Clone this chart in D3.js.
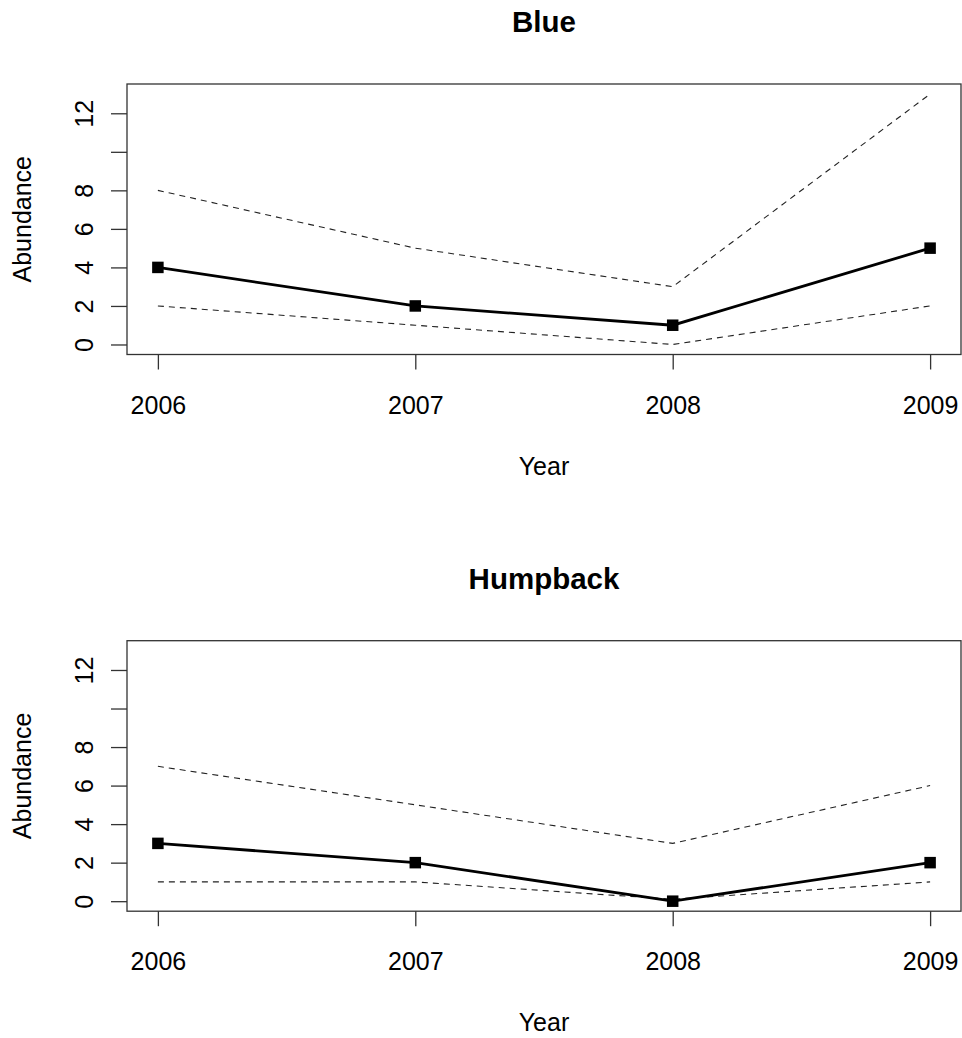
<!DOCTYPE html>
<html>
<head>
<meta charset="utf-8">
<script src="https://cdn.jsdelivr.net/npm/d3@7"></script>
<style>
  html, body { margin: 0; padding: 0; background: #fff; }
  svg { display: block; font-family: "Liberation Sans", Arial, sans-serif; }
</style>
</head>
<body>
<svg id="chart" width="962" height="1038"></svg>
<script>
// Survey years and abundance estimates with their confidence bounds
const years = [2006, 2007, 2008, 2009];
const species = ["Blue", "Humpback"];
const blueEstimate = [4, 2, 1, 5];
const blueLower = [2, 1, 0, 2];
const blueUpper = [8, 5, 3, 13];
const humpbackEstimate = [3, 2, 0, 2];
const humpbackLower = [1, 1, 0.1, 1];
const humpbackUpper = [7, 5, 3, 6];
const yTicks = [0, 2, 4, 6, 8, 10, 12];
const yTickLabels = ["0", "2", "4", "6", "8", "", "12"];
const xTickLabels = ["2006", "2007", "2008", "2009"];

const panels = [
  { title: species[0], est: blueEstimate, lo: blueLower, hi: blueUpper, top: 84 },
  { title: species[1], est: humpbackEstimate, lo: humpbackLower, hi: humpbackUpper, top: 640.7 }
];

const svg = d3.select("#chart");
const left = 127, right = 961, boxH = 270.5;
const fs = 25;

// R-style 4% padding around the data range
const xPad = (years[years.length - 1] - years[0]) * 0.04;
const yMax = 13, yPad = yMax * 0.04;

panels.forEach(p => {
  const top = p.top, bottom = top + boxH;
  const x = d3.scaleLinear().domain([years[0] - xPad, years[years.length - 1] + xPad]).range([left, right]);
  const y = d3.scaleLinear().domain([-yPad, yMax + yPad]).range([bottom, top]);

  const g = svg.append("g");

  // title
  g.append("text")
    .attr("x", (left + right) / 2).attr("y", top - 52)
    .attr("text-anchor", "middle")
    .attr("font-weight", "bold").attr("font-size", 29.5)
    .text(p.title);

  // plot frame
  g.append("rect")
    .attr("x", left).attr("y", top)
    .attr("width", right - left).attr("height", boxH)
    .attr("fill", "none").attr("stroke", "#333").attr("stroke-width", 1.3);

  // x axis
  const xAxis = d3.axisBottom(x)
    .tickValues(years)
    .tickSize(15).tickPadding(0)
    .tickFormat((d, i) => xTickLabels[i]);
  const gx = g.append("g").attr("transform", `translate(0,${bottom})`).call(xAxis);
  gx.select(".domain").remove();
  gx.selectAll(".tick line").attr("stroke", "#333").attr("stroke-width", 1.3);
  gx.selectAll(".tick text")
    .attr("font-size", fs).attr("fill", "#000")
    .attr("dy", null).attr("y", 59);

  // y axis
  const yAxis = d3.axisLeft(y)
    .tickValues(yTicks)
    .tickSize(16).tickPadding(0)
    .tickFormat((d, i) => yTickLabels[i]);
  const gy = g.append("g").attr("transform", `translate(${left},0)`).call(yAxis);
  gy.select(".domain").remove();
  gy.selectAll(".tick line").attr("stroke", "#333").attr("stroke-width", 1.3);
  gy.selectAll(".tick text")
    .attr("font-size", fs).attr("fill", "#000")
    .attr("x", null).attr("dy", null)
    .attr("text-anchor", "middle")
    .attr("transform", "translate(-33.7,0) rotate(-90)");

  // axis titles
  g.append("text")
    .attr("x", (left + right) / 2).attr("y", bottom + 120)
    .attr("text-anchor", "middle").attr("font-size", fs)
    .text("Year");
  g.append("text")
    .attr("transform", `translate(31,${(top + bottom) / 2}) rotate(-90)`)
    .attr("text-anchor", "middle").attr("font-size", fs)
    .text("Abundance");

  const line = d3.line().x((d, i) => x(years[i])).y(d => y(d));

  // confidence bounds
  [p.lo, p.hi].forEach(arr => {
    g.append("path")
      .datum(arr)
      .attr("d", line)
      .attr("fill", "none").attr("stroke", "#222")
      .attr("stroke-width", 1.1)
      .attr("stroke-dasharray", "6,5");
  });

  // estimate line and square markers
  g.append("path")
    .datum(p.est)
    .attr("d", line)
    .attr("fill", "none").attr("stroke", "#000")
    .attr("stroke-width", 2.8);
  const s = 11.5;
  g.selectAll("rect.pt").data(p.est).enter().append("rect")
    .attr("class", "pt")
    .attr("x", (d, i) => x(years[i]) - s / 2)
    .attr("y", d => y(d) - s / 2)
    .attr("width", s).attr("height", s)
    .attr("fill", "#000");
});
</script>
</body>
</html>
